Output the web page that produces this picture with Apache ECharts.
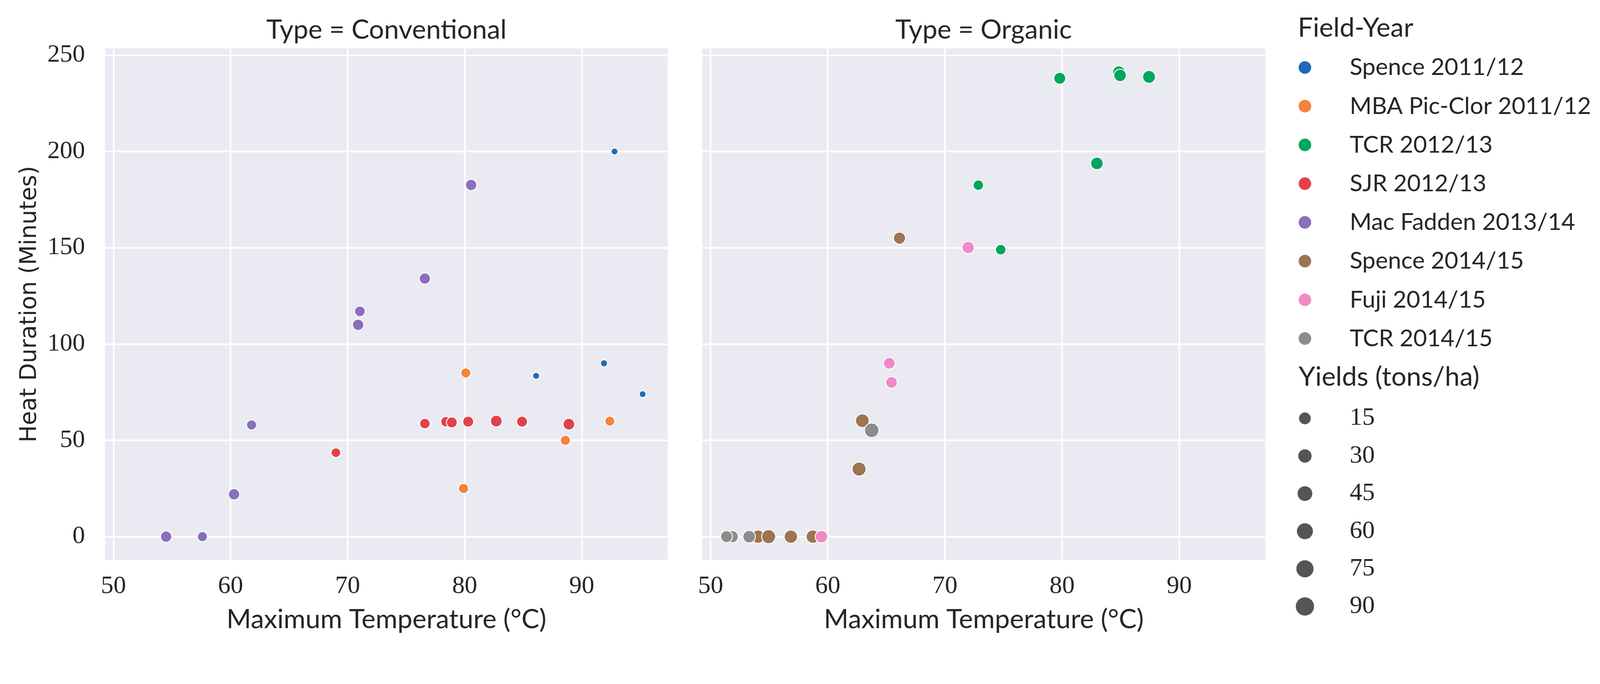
<!DOCTYPE html>
<html><head><meta charset="utf-8">
<script src="https://cdn.jsdelivr.net/npm/echarts@6/dist/echarts.min.js"></script>
<style>html,body{margin:0;padding:0;background:#fff;overflow:hidden}</style>
</head><body><div id="c"></div>
<script>
// ---------------- data ----------------
const fieldYears = ['Spence 2011/12','MBA Pic-Clor 2011/12','TCR 2012/13','SJR 2012/13','Mac Fadden 2013/14','Spence 2014/15','Fuji 2014/15','TCR 2014/15'];
const panelTitles = ['Type = Conventional','Type = Organic'];
const xTicks = [50, 60, 70, 80, 90];
const yTicks = [0, 50, 100, 150, 200, 250];
const yieldLegendValues = [15, 30, 45, 60, 75, 90];

// Conventional
const spence1112Temp = [92.8, 86.1, 91.9, 95.2];
const spence1112Dur  = [200, 83.5, 90, 74];
const spence1112Yield = [10, 11, 12, 10];
const mbaTemp = [80.1, 79.9, 88.6, 92.4];
const mbaDur  = [85, 25, 50, 60];
const mbaYield = [38, 40, 39, 37];
const sjrTemp = [69.0, 76.6, 78.4, 78.9, 80.3, 82.7, 84.9, 88.9];
const sjrDur  = [43.6, 58.7, 59.7, 59.3, 59.7, 60.0, 59.7, 58.4];
const sjrYield = [34, 43, 43, 48, 48, 57, 48, 57];
const macTemp = [54.5, 57.6, 60.3, 61.8, 70.9, 71.05, 76.6, 80.55];
const macDur  = [0, 0, 22, 58, 110, 117, 134, 182.6];
const macYield = [52, 39, 52, 39, 52, 45, 52, 52];
// Organic
const tcr1213Temp = [72.85, 74.76, 79.8, 82.97, 84.85, 84.95, 87.42];
const tcr1213Dur  = [182.5, 149.0, 238.0, 193.8, 241.2, 239.5, 238.7];
const tcr1213Yield = [43, 43, 60, 67, 67, 67, 72];
const spence1415Temp = [66.12, 62.95, 62.67, 54.05, 54.95, 56.85, 58.72];
const spence1415Dur  = [155, 60.2, 35.1, 0, 0, 0, 0];
const spence1415Yield = [62, 83, 87, 78, 87, 78, 78];
const fujiTemp = [71.98, 65.25, 65.44, 59.46];
const fujiDur  = [150.1, 90, 80.1, 0];
const fujiYield = [64, 57, 57, 67];
const tcr1415Temp = [63.75, 51.85, 51.36, 53.29];
const tcr1415Dur  = [55.2, 0, 0, 0];
const tcr1415Yield = [95, 62, 60, 67];

// ---------------- layout / styling ----------------
const BASE_W = 4327, BASE_H = 1752;
const viewW = document.documentElement.clientWidth || window.innerWidth || BASE_W;
const S = viewW / BASE_W;           // fit the design to the actual viewport
const P = v => v * S;
const el = document.getElementById('c');
el.style.width = (BASE_W * S) + 'px';
el.style.height = (BASE_H * S) + 'px';

const colors = ['#1f6bb5','#f5823f','#00a65e','#e0424b','#8a6fba','#9c7452','#f08ac6','#8c8c8c'];
const groups = [
  {t: spence1112Temp, d: spence1112Dur, y: spence1112Yield, panel: 0},
  {t: mbaTemp, d: mbaDur, y: mbaYield, panel: 0},
  {t: tcr1213Temp, d: tcr1213Dur, y: tcr1213Yield, panel: 1},
  {t: sjrTemp, d: sjrDur, y: sjrYield, panel: 0},
  {t: macTemp, d: macDur, y: macYield, panel: 0},
  {t: spence1415Temp, d: spence1415Dur, y: spence1415Yield, panel: 1},
  {t: fujiTemp, d: fujiDur, y: fujiYield, panel: 1},
  {t: tcr1415Temp, d: tcr1415Dur, y: tcr1415Yield, panel: 1}
];
const SANS = 'Lato', SERIF = 'Liberation Serif';
const TXT = '#262626';
const BW = 2.5;
function pointDiameter(v) { return 1.1 * Math.sqrt(361 + 12.74 * (v - 10)); }
function legendDiameter(v) { return 1.1 * Math.sqrt(841 + 15.8 * (v - 15)); }

const gridTop = 131, gridH = 1384;
const grids = [
  {left: P(284), top: P(gridTop), width: P(1522), height: P(gridH)},
  {left: P(1899), top: P(gridTop), width: P(1523), height: P(gridH)}
];

const series = groups.map((g, i) => ({
  name: fieldYears[i],
  type: 'scatter',
  xAxisIndex: g.panel, yAxisIndex: g.panel,
  data: g.t.map((t, j) => [t, g.d[j], g.y[j]]),
  symbol: 'circle',
  symbolSize: v => P(pointDiameter(v[2]) - BW),
  itemStyle: {color: colors[i], borderColor: '#ffffff', borderWidth: P(BW), opacity: 1},
  emphasis: {disabled: true},
  z: 3
}));
yieldLegendValues.forEach(v => series.push({
  name: String(v), type: 'scatter', xAxisIndex: 0, yAxisIndex: 0, data: [],
  itemStyle: {color: '#2b2b2b'}
}));

const legendX = 3529, legendTextX = 3650;
const legends = [{
  orient: 'vertical', left: P(legendX - 17), top: P(182.5 - 40), padding: 0,
  itemWidth: P(34), itemHeight: P(34), itemGap: P(104.8 - 80), icon: 'circle', selectedMode: false,
  itemStyle: {borderWidth: 0},
  textStyle: {fontFamily: SANS, fontSize: P(64), lineHeight: P(80), color: TXT,
              padding: [0, 0, 0, P(legendTextX - (legendX - 17) - 34) - 5]},
  data: fieldYears
}];
yieldLegendValues.forEach((v, k) => {
  const dd = legendDiameter(v);
  const rowY = 1132 + k * 101.8;
  legends.push({
    orient: 'vertical', left: P(legendX - dd / 2), top: P(rowY - 40), padding: 0,
    itemWidth: P(dd), itemHeight: P(dd), icon: 'circle', selectedMode: false,
    itemStyle: {borderWidth: 0},
    textStyle: {fontFamily: SERIF, fontSize: P(68), lineHeight: P(80), color: TXT,
                padding: [0, 0, 0, P(legendTextX - (legendX - dd / 2) - dd) - 5]},
    data: [String(v)]
  });
});

const xAxes = [0, 1].map(p => ({
  type: 'value', gridIndex: p, min: 49.28, max: 97.35,
  axisLine: {show: false},
  axisTick: {show: false, customValues: xTicks},
  axisLabel: {customValues: xTicks, margin: P(38), fontFamily: SERIF, fontSize: P(68), color: TXT},
  splitLine: {show: true, lineStyle: {color: '#ffffff', width: P(4.5)}},
  name: 'Maximum Temperature (°C)', nameLocation: 'middle', nameGap: P(126),
  nameTextStyle: {fontFamily: SANS, fontSize: P(72), color: TXT}
}));
const yAxes = [0, 1].map(p => ({
  type: 'value', gridIndex: p, min: -12.07, max: 253.5,
  axisLine: {show: false},
  axisTick: {show: false, customValues: yTicks},
  axisLabel: {show: p === 0, customValues: yTicks, margin: P(54), fontFamily: SERIF, fontSize: P(68), color: TXT},
  splitLine: {show: true, lineStyle: {color: '#ffffff', width: P(4.5)}},
  name: p === 0 ? 'Heat Duration (Minutes)' : '', nameLocation: 'middle', nameRotate: 90, nameGap: P(172),
  nameTextStyle: {fontFamily: 'DejaVu Sans', fontSize: P(62), color: TXT}
}));

const graphics = [
  {type: 'text', x: P(1045), y: P(81), style: {text: panelTitles[0], fontFamily: SANS, fontSize: P(72), fill: TXT, align: 'center', verticalAlign: 'middle'}},
  {type: 'text', x: P(2660), y: P(81), style: {text: panelTitles[1], fontFamily: SANS, fontSize: P(72), fill: TXT, align: 'center', verticalAlign: 'middle'}},
  {type: 'text', x: P(3510), y: P(76), style: {text: 'Field-Year', fontFamily: SANS, fontSize: P(72), fill: TXT, align: 'left', verticalAlign: 'middle'}},
  {type: 'text', x: P(3512), y: P(1021), style: {text: 'Yields (tons/ha)', fontFamily: SANS, fontSize: P(72), fill: TXT, align: 'left', verticalAlign: 'middle'}}
];

const chart = echarts.init(el, null, {renderer: 'canvas'});
chart.setOption({
  animation: false,
  backgroundColor: '#ffffff',
  grid: grids.map(g => Object.assign({show: true, backgroundColor: '#eaeaf2', borderWidth: 0, containLabel: false, outerBoundsMode: 'none'}, g)),
  xAxis: xAxes,
  yAxis: yAxes,
  legend: legends,
  graphic: graphics,
  series: series
});
</script></body></html>
